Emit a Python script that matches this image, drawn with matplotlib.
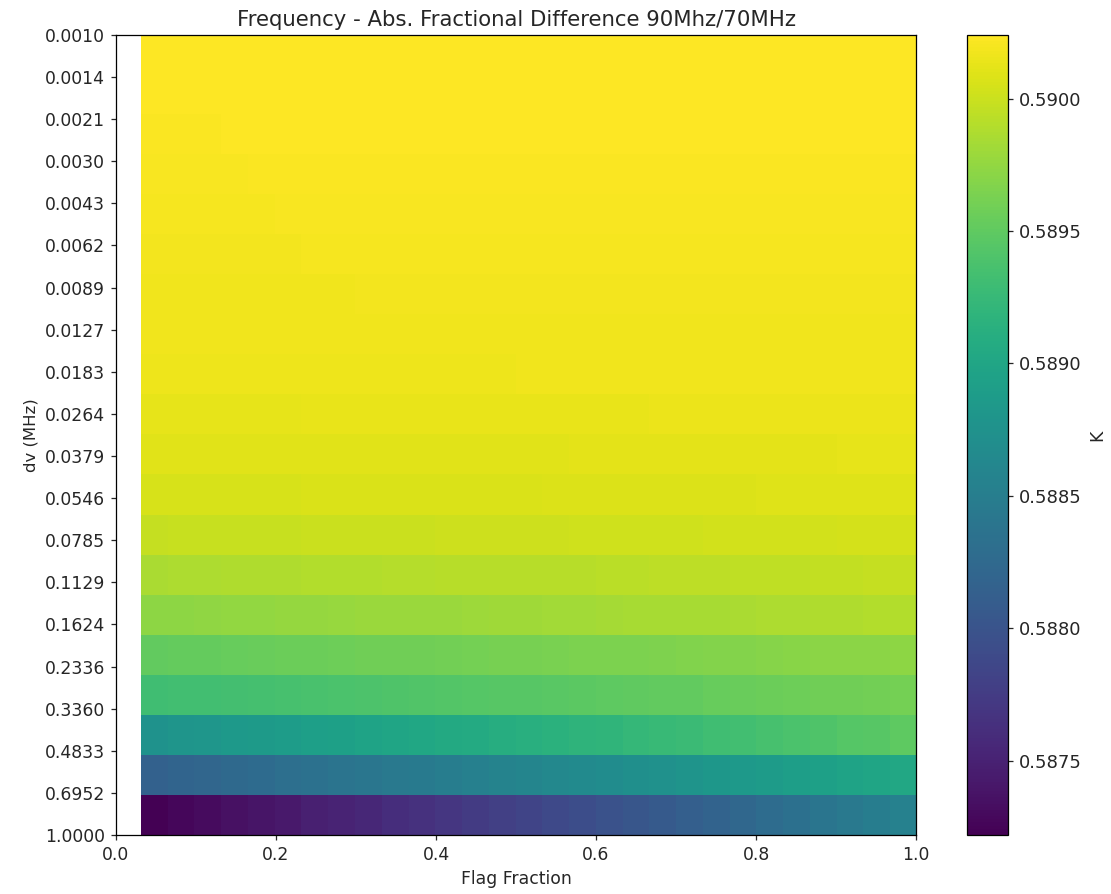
import matplotlib
matplotlib.use("Agg")
import matplotlib.pyplot as plt
import numpy as np

# dv tick labels (top to bottom), one tick per label
dv_labels = ["0.0010", "0.0014", "0.0021", "0.0030", "0.0043", "0.0062", "0.0089",
             "0.0127", "0.0183", "0.0264", "0.0379", "0.0546", "0.0785", "0.1129",
             "0.1624", "0.2336", "0.3360", "0.4833", "0.6952", "1.0000"]

# flag fraction range covered by the 29 columns
flag_min = 0.031
flag_max = 1.0

# abs. fractional difference, in units of 1e-5 above 0.587 (20 rows x 29 columns)
base = 0.587
diff_e5 = [
    [324, 324, 324, 324, 324, 324, 324, 324, 324, 324, 324, 324, 324, 324, 324, 324, 324, 324, 324, 324, 324, 324, 324, 324, 324, 324, 324, 324, 324],
    [323, 323, 323, 323, 323, 323, 323, 323, 323, 323, 323, 323, 323, 323, 323, 324, 324, 324, 324, 324, 324, 324, 324, 324, 324, 324, 324, 324, 324],
    [322, 322, 322, 323, 323, 323, 323, 323, 323, 323, 323, 323, 323, 323, 323, 323, 323, 323, 323, 323, 323, 323, 323, 323, 323, 323, 323, 323, 323],
    [321, 321, 321, 321, 322, 322, 322, 322, 322, 322, 322, 322, 322, 322, 322, 322, 322, 322, 322, 322, 322, 322, 322, 322, 322, 322, 322, 322, 322],
    [320, 320, 320, 320, 320, 321, 321, 321, 321, 321, 321, 321, 321, 321, 321, 321, 321, 321, 321, 321, 321, 321, 321, 321, 321, 321, 321, 321, 321],
    [319, 319, 319, 319, 319, 319, 320, 320, 320, 320, 320, 320, 320, 320, 320, 320, 320, 320, 320, 320, 320, 320, 320, 320, 320, 320, 320, 320, 320],
    [318, 318, 318, 318, 318, 318, 318, 318, 319, 319, 319, 319, 319, 319, 319, 319, 319, 319, 319, 319, 319, 319, 319, 319, 319, 319, 319, 319, 319],
    [317, 317, 317, 317, 317, 317, 317, 317, 317, 317, 318, 318, 318, 318, 318, 318, 318, 318, 318, 318, 318, 318, 318, 318, 318, 318, 318, 318, 318],
    [316, 316, 316, 316, 316, 316, 316, 316, 316, 316, 316, 316, 316, 316, 317, 317, 317, 317, 317, 317, 317, 317, 317, 317, 317, 317, 317, 317, 317],
    [313, 313, 313, 313, 313, 313, 314, 314, 314, 314, 314, 314, 314, 314, 314, 314, 314, 314, 314, 315, 315, 315, 315, 315, 315, 315, 315, 315, 315],
    [310, 310, 310, 310, 310, 311, 311, 311, 311, 311, 311, 311, 311, 311, 311, 311, 312, 312, 312, 312, 312, 312, 312, 312, 312, 312, 313, 313, 313],
    [306, 306, 306, 306, 306, 306, 307, 307, 307, 307, 307, 307, 307, 307, 307, 308, 308, 308, 308, 308, 308, 308, 308, 309, 309, 309, 309, 309, 309],
    [298, 299, 299, 299, 299, 299, 300, 300, 300, 300, 300, 301, 301, 301, 301, 301, 302, 302, 302, 302, 302, 303, 303, 303, 303, 303, 304, 304, 304],
    [286, 287, 287, 288, 288, 288, 289, 289, 289, 290, 290, 291, 291, 291, 292, 292, 292, 293, 293, 294, 294, 294, 295, 295, 295, 296, 296, 297, 297],
    [273, 273, 274, 275, 275, 276, 276, 277, 278, 278, 279, 279, 280, 281, 281, 282, 282, 283, 284, 284, 285, 285, 286, 287, 287, 288, 288, 289, 289],
    [252, 253, 253, 254, 255, 256, 256, 257, 258, 259, 259, 260, 261, 262, 262, 263, 264, 265, 265, 266, 267, 268, 268, 269, 270, 271, 271, 272, 273],
    [231, 232, 233, 234, 235, 236, 237, 238, 240, 241, 242, 243, 244, 245, 246, 247, 248, 249, 250, 251, 252, 254, 255, 256, 257, 258, 259, 260, 261],
    [176, 179, 181, 184, 186, 189, 192, 194, 197, 199, 202, 205, 207, 210, 212, 215, 218, 220, 223, 226, 228, 231, 233, 236, 238, 241, 244, 246, 249],
    [116, 119, 122, 125, 128, 132, 135, 138, 141, 144, 147, 150, 153, 157, 160, 163, 166, 169, 172, 175, 178, 182, 185, 188, 191, 194, 197, 200, 203],
    [22, 27, 31, 35, 39, 43, 48, 52, 56, 61, 65, 70, 74, 79, 84, 89, 93, 98, 103, 108, 113, 118, 123, 129, 134, 139, 144, 150, 155],
]

frac_diff = base + np.array(diff_e5) * 1e-5

plt.rcParams["text.color"] = "#262626"
plt.rcParams["axes.labelcolor"] = "#262626"
plt.rcParams["xtick.color"] = "#262626"
plt.rcParams["ytick.color"] = "#262626"

dpi = 113
fig = plt.figure(figsize=(1111 / dpi, 894 / dpi), dpi=dpi)
ax = fig.add_axes([0.1044, 0.0660, 0.7201, 0.8949])
cax = fig.add_axes([0.8707, 0.0660, 0.0369, 0.8949])

n_rows = len(dv_labels)
im = ax.imshow(frac_diff, cmap="viridis", aspect="auto",
               extent=[flag_min, flag_max, n_rows - 1, 0])
ax.set_xlim(0, 1)
ax.set_ylim(n_rows - 1, 0)
ax.set_yticks(np.arange(n_rows))
ax.set_yticklabels(dv_labels)
ax.tick_params(labelsize=11)
ax.set_xlabel("Flag Fraction", fontsize=11)
ax.set_ylabel("dv (MHz)", fontsize=10.5)
ax.set_title("Frequency - Abs. Fractional Difference 90Mhz/70MHz", fontsize=13.5)

cb = fig.colorbar(im, cax=cax)
cb.set_label("K", fontsize=11)
cb.formatter = matplotlib.ticker.FormatStrFormatter("%.4f")
cb.update_ticks()
cb.ax.tick_params(labelsize=11.5)

fig.savefig("out.png", dpi=dpi)
